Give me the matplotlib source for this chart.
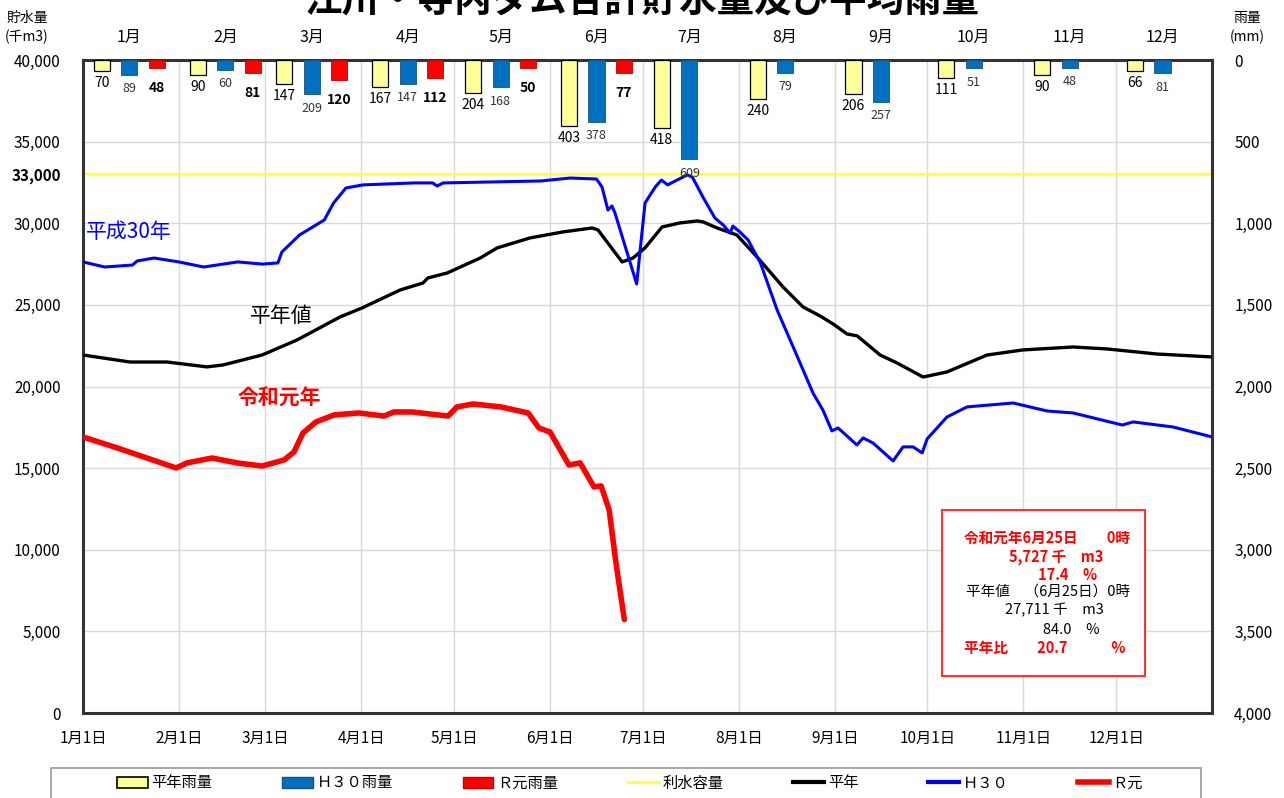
import matplotlib
matplotlib.use("Agg")
import matplotlib.pyplot as plt
from matplotlib.patches import Patch, Rectangle
from matplotlib.lines import Line2D
from matplotlib.transforms import blended_transform_factory

plt.rcParams['font.family'] = ['Noto Sans CJK JP', 'DejaVu Sans']

# ---------------- data ----------------
month_labels = ['1月', '2月', '3月', '4月', '5月', '6月', '7月', '8月', '9月', '10月', '11月', '12月']
month_start_days = [0, 31, 59, 90, 120, 151, 181, 212, 243, 273, 304, 334]
date_labels = ['1月1日', '2月1日', '3月1日', '4月1日', '5月1日', '6月1日', '7月1日',
               '8月1日', '9月1日', '10月1日', '11月1日', '12月1日']

rain_normal = [70, 90, 147, 167, 204, 403, 418, 240, 206, 111, 90, 66]
rain_h30 = [89, 60, 209, 147, 168, 378, 609, 79, 257, 51, 48, 81]
rain_r1 = [48, 81, 120, 112, 50, 77]

capacity = 33000

h30_days = [0, 7, 16, 17.5, 23, 31, 39, 50, 58, 63, 64.3, 70, 78, 81, 85, 90.5, 107, 113, 114.5,
            116.4, 148, 157.5, 166, 167.8, 169.7, 171, 172, 179, 181.7, 185, 187, 189, 195.3,
            197, 200.4, 204.3, 207, 209.2, 210.1, 212.4, 215, 219, 224.4, 229.6, 236, 239.2,
            242.1, 244.1, 250.2, 252.2, 255.4, 261.9, 265.1, 268.4, 271.3, 272.9, 279.3, 285.8,
            300.7, 311.7, 320.1, 336, 339.5, 352.4, 365]
h30_vals = [27630, 27320, 27440, 27690, 27870, 27630, 27320, 27630, 27500, 27570, 28240, 29280,
            30200, 31240, 32160, 32350, 32470, 32470, 32280, 32470, 32590, 32770, 32710, 32220,
            30810, 31060, 30620, 26280, 31240, 32220, 32650, 32350, 32960, 32830, 31610, 30320,
            29890, 29400, 29830, 29460, 28980, 27570, 24690, 22420, 19600, 18560, 17280, 17460,
            16420, 16850, 16540, 15440, 16300, 16300, 15930, 16790, 18130, 18750, 18990, 18500,
            18380, 17640, 17830, 17520, 16910]

normal_days = [0, 15.2, 27.2, 40.1, 45.3, 57.9, 69.2, 83.1, 90.2, 102.5, 109.9, 111.5, 117.7,
               128.4, 133.9, 144.5, 155.2, 164.6, 166.5, 174.3, 177.8, 181.7, 187.2, 193, 198.5,
               200.5, 205, 211.4, 217.9, 226.3, 232.8, 238.3, 242.5, 247, 250.3, 257.7, 263.2,
               271.6, 279.3, 292.3, 303.9, 320.1, 331.1, 347.2, 365]
normal_vals = [21930, 21500, 21500, 21200, 21320, 21930, 22850, 24260, 24810, 25910, 26340,
               26650, 26950, 27870, 28490, 29100, 29470, 29710, 29590, 27630, 27870, 28490,
               29770, 30020, 30140, 30080, 29710, 29280, 27940, 26100, 24870, 24320, 23830,
               23220, 23100, 21930, 21440, 20580, 20890, 21930, 22240, 22420, 22300, 21990, 21810]

r1_days = [0, 11.2, 30.1, 33.6, 41.7, 49.8, 57.9, 65, 68.2, 71.1, 75.3, 81.2, 89.2, 97.3, 100.5,
           106.4, 118, 120.9, 126.1, 135.1, 143.9, 147.4, 151, 157.1, 160.7, 165.2, 167.5,
           170.1, 172.3, 175]
r1_vals = [16910, 16230, 15010, 15320, 15620, 15320, 15130, 15500, 15990, 17150, 17830, 18260,
           18380, 18190, 18440, 18440, 18190, 18750, 18930, 18750, 18380, 17460, 17210, 15190,
           15320, 13850, 13910, 12440, 9190, 5727]

# ---------------- figure ----------------
W, H = 1284, 798
fig = plt.figure(figsize=(W / 100, H / 100), dpi=100)

def fx(x):
    return x / W

def fy(y):
    return 1 - y / H

L, R, T, B = 83, 1212, 60, 713
ax = fig.add_axes([fx(L), fy(B), (R - L) / W, (B - T) / H])
ax.set_xlim(0, 365)
ax.set_ylim(0, 40000)

# grid
for d in month_start_days[1:]:
    ax.axvline(d, color='#d9d9d9', lw=1, zorder=0)
for v in range(5000, 40000, 5000):
    ax.axhline(v, color='#d9d9d9', lw=1, zorder=0)

ax.axhline(capacity, color='#ffff33', lw=1.6, zorder=2)
ax.plot(normal_days, normal_vals, color='black', lw=2.4, zorder=3)
ax.plot(h30_days, h30_vals, color='#0000ff', lw=2.2, zorder=4)
ax.plot(r1_days, r1_vals, color='#ff0000', lw=4, zorder=5, solid_capstyle='round')

yt = [0, 5000, 10000, 15000, 20000, 25000, 30000, 33000, 35000, 40000]
ax.set_yticks(yt)
ax.set_yticklabels([f'{v:,}' for v in yt], fontsize=11)
for lab, v in zip(ax.get_yticklabels(), yt):
    if v == 33000:
        lab.set_fontweight('bold')
ax.set_xticks(month_start_days)
ax.set_xticklabels(date_labels, fontsize=11)
ax.tick_params(axis='both', length=0, pad=12)
ax.tick_params(axis='y', pad=16)
for s in ax.spines.values():
    s.set_linewidth(2.2)
    s.set_color('#333333')

# rain axis
ax2 = ax.twinx()
ax2.set_ylim(4000, 0)
ax2.set_yticks(range(0, 4001, 500))
ax2.set_yticklabels([f'{v:,}' for v in range(0, 4001, 500)], fontsize=11)
ax2.tick_params(axis='y', length=0, pad=16)
for s in ax2.spines.values():
    s.set_visible(False)

centers = [d + 15 for d in month_start_days]
off = 8.9
bw = 5.2
xy_n = [c - off for c in centers]
xy_h = centers
xy_r = [c + off for c in centers[:len(rain_r1)]]
ax2.bar(xy_n, rain_normal, width=bw, color='#ffff99', edgecolor='black', lw=0.9, zorder=3)
ax2.bar(xy_h, rain_h30, width=bw, color='#0070c0', edgecolor='#1f4e79', lw=0.6, zorder=3)
ax2.bar(xy_r, rain_r1, width=bw, color='#ff0000', edgecolor='#c00000', lw=0.6, zorder=3)
for x, v in zip(xy_n, rain_normal):
    ax2.annotate(str(v), (x, v), xytext=(0, -12), textcoords='offset pixels',
                 ha='center', va='center', fontsize=10, color='black')
for x, v in zip(xy_h, rain_h30):
    ax2.annotate(str(v), (x, v), xytext=(0, -14), textcoords='offset pixels',
                 ha='center', va='center', fontsize=9, color='#333333')
for x, v in zip(xy_r, rain_r1):
    ax2.annotate(str(v), (x, v), xytext=(0, -20), textcoords='offset pixels',
                 ha='center', va='center', fontsize=10, color='black', fontweight='bold')

# top month labels
tr = blended_transform_factory(ax.transData, ax.transAxes)
for c, m in zip(centers, month_labels):
    ax.text(c, 1 + 23 / 653, m, transform=tr, ha='center', va='center', fontsize=11.5)

# series labels
ax.text(1, 29470, '平成30年', color='#0000ff', fontsize=15, ha='left', va='center')
ax.text(54, 24320, '平年値', color='black', fontsize=15, ha='left', va='center')
ax.text(50, 19300, '令和元年', color='#ff0000', fontsize=15, ha='left', va='center',
        fontweight='bold')

# title & axis captions
fig.text(0.5, fy(1), '江川・寺内ダム合計貯水量及び平均雨量', ha='center', va='center',
         fontsize=27, fontweight='bold')
fig.text(fx(27), fy(18), '貯水量', ha='center', va='center', fontsize=10)
fig.text(fx(27), fy(37), '(千m3)', ha='center', va='center', fontsize=10)
fig.text(fx(1247), fy(18), '雨量', ha='center', va='center', fontsize=10)
fig.text(fx(1247), fy(37), '(mm)', ha='center', va='center', fontsize=10)

# info box
fig.patches.append(Rectangle((fx(942), fy(676)), (1145 - 942) / W, (676 - 510) / H,
                             transform=fig.transFigure, fill=True, facecolor='white',
                             edgecolor='#ff3333', lw=1.5, zorder=10))
info = [
    (1047, 538, '令和元年6月25日　　0時', '#ff0000', 'bold'),
    (1056, 557, '5,727 千　m3', '#ff0000', 'bold'),
    (1068, 575, '17.4　%', '#ff0000', 'bold'),
    (1048, 592, '平年値　（6月25日）0時', 'black', 'normal'),
    (1054, 610, '27,711 千　m3', 'black', 'normal'),
    (1071, 630, '84.0　%', 'black', 'normal'),
    (1045, 648, '平年比　　20.7　　　%', '#ff0000', 'bold'),
]
for x, y, s, c, w in info:
    fig.text(fx(x), fy(y), s, ha='center', va='center', fontsize=10.5, color=c,
             fontweight=w, zorder=11)

# legend
fig.patches.append(Rectangle((fx(51), fy(810)), (1201 - 51) / W, (810 - 768) / H,
                             transform=fig.transFigure, fill=False,
                             edgecolor='#999999', lw=1.2))
handles = [
    Patch(facecolor='#ffff99', edgecolor='black', lw=1.2),
    Patch(facecolor='#0070c0', edgecolor='#1f4e79'),
    Patch(facecolor='#ff0000', edgecolor='#c00000'),
    Line2D([], [], color='#ffff33', lw=2),
    Line2D([], [], color='black', lw=3),
    Line2D([], [], color='#0000ff', lw=3),
    Line2D([], [], color='#ff0000', lw=4),
]
labels = ['平年雨量', 'Ｈ３０雨量', 'Ｒ元雨量', '利水容量', '平年', 'Ｈ３０', 'Ｒ元']
leg = fig.legend(handles, labels, loc='center left', ncol=7, mode='expand',
                 bbox_to_anchor=(fx(117), fy(795), (1143 - 117) / W, (795 - 771) / H),
                 fontsize=11, frameon=False, handlelength=2.0, handletextpad=0.25,
                 borderpad=0, borderaxespad=0)

fig.savefig('out.png', dpi=100)
